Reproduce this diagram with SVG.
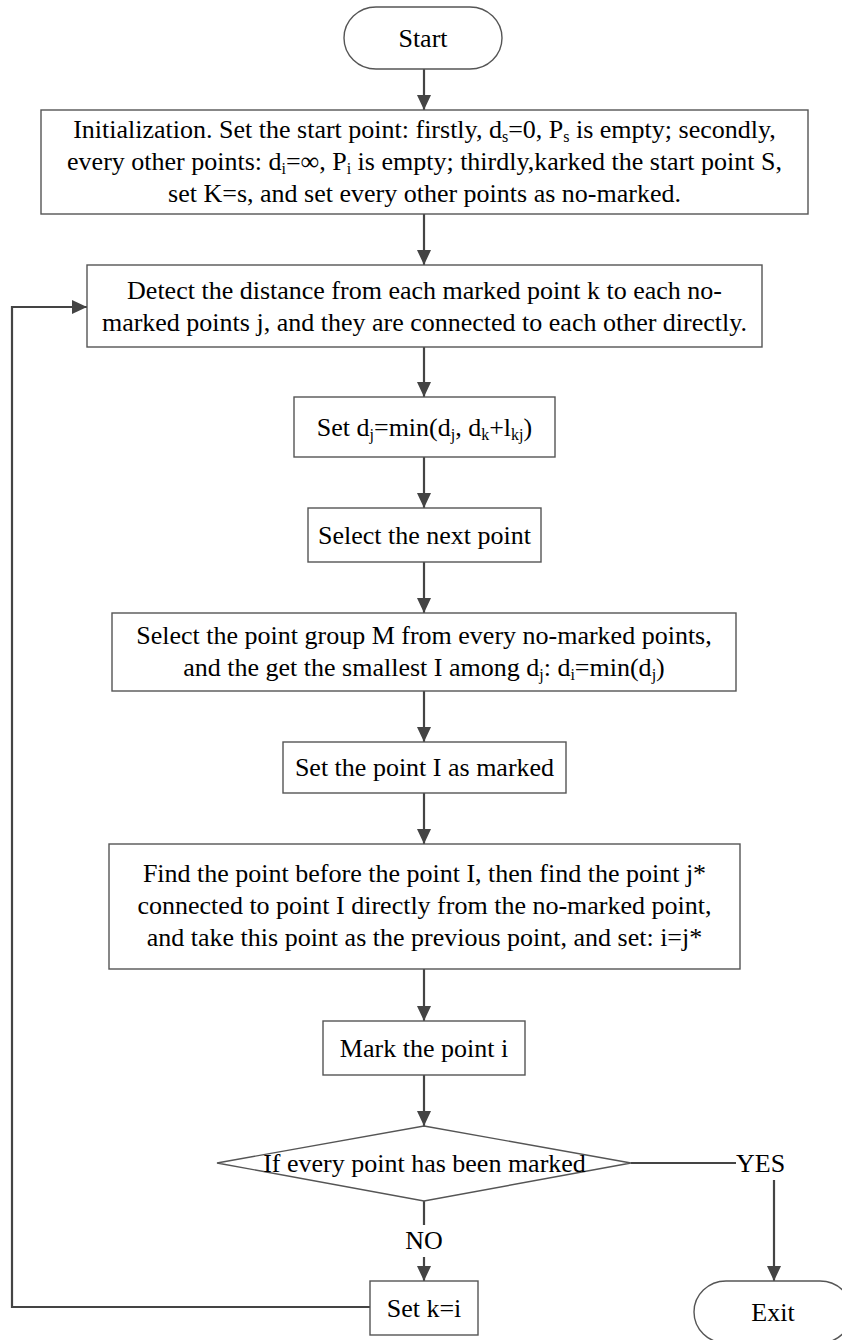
<svg xmlns="http://www.w3.org/2000/svg" width="842" height="1340" viewBox="0 0 842 1340">
  <style>
    .box { fill: #ffffff; stroke: #555555; stroke-width: 1.4; }
    .txt { font-family: "Liberation Serif", "Times New Roman", serif; font-size: 26px; fill: #000000; text-anchor: middle; }
    .lbl { font-family: "Liberation Serif", "Times New Roman", serif; font-size: 26px; fill: #000000; }
    .edge { fill: none; stroke: #444444; stroke-width: 2.2; }
    .sub { font-size: 16px; }
  </style>
  <defs>
    <marker id="arrow" markerUnits="userSpaceOnUse" markerWidth="15" markerHeight="14" refX="15" refY="7" orient="auto">
      <path d="M0,0 L15,7 L0,14 Z" fill="#444444"/>
    </marker>
  </defs>

  <rect width="842" height="1340" fill="#ffffff"/>

  <!-- connectors -->
  <g id="connectors">
    <line class="edge" x1="424" y1="69" x2="424" y2="110" marker-end="url(#arrow)"/>
    <line class="edge" x1="424" y1="214" x2="424" y2="265" marker-end="url(#arrow)"/>
    <line class="edge" x1="424" y1="347" x2="424" y2="397" marker-end="url(#arrow)"/>
    <line class="edge" x1="424" y1="457" x2="424" y2="508" marker-end="url(#arrow)"/>
    <line class="edge" x1="424" y1="562" x2="424" y2="613" marker-end="url(#arrow)"/>
    <line class="edge" x1="424" y1="691" x2="424" y2="742" marker-end="url(#arrow)"/>
    <line class="edge" x1="424" y1="793" x2="424" y2="844" marker-end="url(#arrow)"/>
    <line class="edge" x1="424" y1="969" x2="424" y2="1021" marker-end="url(#arrow)"/>
    <line class="edge" x1="424" y1="1075" x2="424" y2="1126" marker-end="url(#arrow)"/>
    <!-- NO branch -->
    <line class="edge" x1="424" y1="1201" x2="424" y2="1225"/>
    <line class="edge" x1="424" y1="1257" x2="424" y2="1281" marker-end="url(#arrow)"/>
    <text class="txt" x="424" y="1249">NO</text>
    <!-- YES branch -->
    <line class="edge" x1="631" y1="1163" x2="736" y2="1163"/>
    <text class="lbl" x="736" y="1172">YES</text>
    <line class="edge" x1="774" y1="1180" x2="774" y2="1281" marker-end="url(#arrow)"/>
    <!-- loop back -->
    <polyline class="edge" points="370,1307 12,1307 12,307 87,307" stroke-width="2.6" marker-end="url(#arrow)"/>
  </g>

  <g id="start">
    <rect class="box" x="344" y="7" width="158" height="62" rx="32" ry="31"/>
    <text class="txt" x="423" y="47">Start</text>
  </g>

  <g id="init">
    <rect class="box" x="41" y="110" width="767" height="104"/>
    <text class="txt" x="424.5" y="138">Initialization. Set the start point: firstly, d<tspan class="sub" dy="4">s</tspan><tspan dy="-4">=0, P</tspan><tspan class="sub" dy="4">s</tspan><tspan dy="-4"> is empty; secondly,</tspan></text>
    <text class="txt" x="424.5" y="170">every other points: d<tspan class="sub" dy="4">i</tspan><tspan dy="-4">=∞, P</tspan><tspan class="sub" dy="4">i</tspan><tspan dy="-4"> is empty; thirdly,karked the start point S,</tspan></text>
    <text class="txt" x="424.5" y="202">set K=s, and set every other points as no-marked.</text>
  </g>

  <g id="detect">
    <rect class="box" x="87" y="265" width="675" height="82"/>
    <text class="txt" x="424.5" y="299">Detect the distance from each marked point k to each no-</text>
    <text class="txt" x="424.5" y="331">marked points j, and they are connected to each other directly.</text>
  </g>

  <g id="set-dj">
    <rect class="box" x="294" y="397" width="261" height="60"/>
    <text class="txt" x="424.5" y="436">Set d<tspan class="sub" dy="4">j</tspan><tspan dy="-4">=min(d</tspan><tspan class="sub" dy="4">j</tspan><tspan dy="-4">, d</tspan><tspan class="sub" dy="4">k</tspan><tspan dy="-4">+l</tspan><tspan class="sub" dy="4">kj</tspan><tspan dy="-4">)</tspan></text>
  </g>

  <g id="select-next">
    <rect class="box" x="308" y="508" width="233" height="54"/>
    <text class="txt" x="424.5" y="544">Select the next point</text>
  </g>

  <g id="select-group">
    <rect class="box" x="112" y="613" width="624" height="78"/>
    <text class="txt" x="424" y="644">Select the point group M from every no-marked points,</text>
    <text class="txt" x="424" y="676">and the get the smallest I among d<tspan class="sub" dy="4">j</tspan><tspan dy="-4">: d</tspan><tspan class="sub" dy="4">i</tspan><tspan dy="-4">=min(d</tspan><tspan class="sub" dy="4">j</tspan><tspan dy="-4">)</tspan></text>
  </g>

  <g id="set-marked">
    <rect class="box" x="283" y="742" width="283" height="51"/>
    <text class="txt" x="424.5" y="776">Set the point I as marked</text>
  </g>

  <g id="find-previous">
    <rect class="box" x="109" y="844" width="631" height="125"/>
    <text class="txt" x="424.5" y="882">Find the point before the point I, then find the point j*</text>
    <text class="txt" x="424.5" y="914">connected to point I directly from the no-marked point,</text>
    <text class="txt" x="424.5" y="946">and take this point as the previous point, and set: i=j*</text>
  </g>

  <g id="mark-i">
    <rect class="box" x="323" y="1021" width="202" height="54"/>
    <text class="txt" x="424" y="1057">Mark the point i</text>
  </g>

  <g id="decision">
    <polygon class="box" points="424,1126 631,1163 424,1201 217,1163"/>
    <text class="txt" x="424.5" y="1172">If every point has been marked</text>
  </g>

  <g id="set-k">
    <rect class="box" x="370" y="1281" width="108" height="54"/>
    <text class="txt" x="424" y="1317">Set k=i</text>
  </g>

  <g id="exit">
    <rect class="box" x="694" y="1281" width="158" height="62" rx="32" ry="31"/>
    <text class="txt" x="773" y="1321">Exit</text>
  </g>
</svg>
